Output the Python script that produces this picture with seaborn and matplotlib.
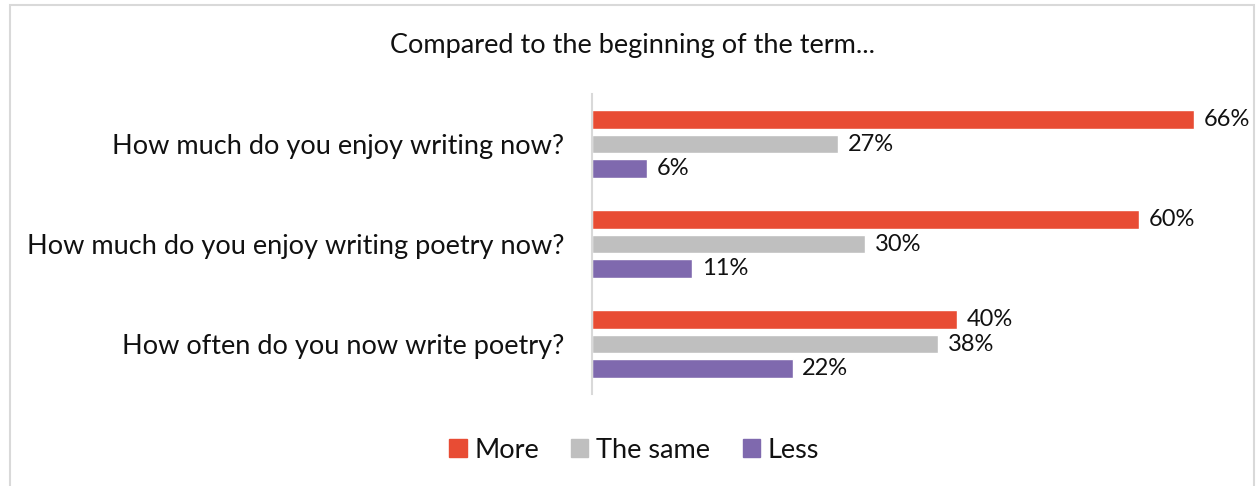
import matplotlib
matplotlib.use("Agg")
import matplotlib.pyplot as plt
from matplotlib.patches import Rectangle
import seaborn as sns
import pandas as pd

# Survey questions and response shares (%)
questions = [
    "How much do you enjoy writing now?",
    "How much do you enjoy writing poetry now?",
    "How often do you now write poetry?",
]
responses = ["More", "The same", "Less"]
more = [66, 60, 40]
same = [27, 30, 38]
less = [6, 11, 22]
colors = ["#E84C34", "#BFBFBF", "#7F69AE"]

rows = []
for q, m, s, l in zip(questions, more, same, less):
    rows.append({"question": q, "response": "More", "pct": m})
    rows.append({"question": q, "response": "The same", "pct": s})
    rows.append({"question": q, "response": "Less", "pct": l})
df = pd.DataFrame(rows)

sns.set_theme(style="white")
plt.rcParams["font.family"] = ["Lato", "DejaVu Sans"]

W, H = 1256, 486
fig = plt.figure(figsize=(W / 100, H / 100), dpi=100)

# plot area in pixel terms: x from 592 to 1230, y from 94 to 394
left, right, top, bottom = 592, 1230, 94, 394
ax = fig.add_axes([left / W, 1 - bottom / H, (right - left) / W, (bottom - top) / H])

sns.barplot(
    data=df, y="question", x="pct", hue="response", orient="h",
    hue_order=responses, palette=colors, width=0.735, gap=0.265,
    ax=ax, legend=False, saturation=1,
)
ax.set_xlim(0, 70)
ax.set_ylim(2.5, -0.5)

for cont in ax.containers:
    ax.bar_label(cont, labels=[f"{v:.0f}%" for v in cont.datavalues],
                 padding=7, fontsize=17, color="#111111")

ax.set_xlabel("")
ax.set_ylabel("")
ax.set_xticks([])
ax.tick_params(axis="y", length=0, pad=20, labelsize=19.5, labelcolor="#111111")
for sp in ["top", "right", "bottom"]:
    ax.spines[sp].set_visible(False)
ax.spines["left"].set_color("#D9D9D9")
ax.spines["left"].set_linewidth(1.5)

fig.text(633 / W, 1 - 45 / H, "Compared to the beginning of the term...",
         ha="center", va="center", fontsize=19.5, color="#111111")

# legend
handles = [Rectangle((0, 0), 1, 1, color=c) for c in colors]
fig.legend(handles, responses, loc="center", bbox_to_anchor=(634 / W, 1 - 450 / H),
           ncol=3, frameon=False, fontsize=19.5, handlelength=0.63, handleheight=0.63,
           handletextpad=0.28, columnspacing=1.2, labelcolor="#111111")

# chart border
fig.add_artist(Rectangle((10 / W, -0.05), (1254 - 10) / W, 1 - 5 / H + 0.05,
                         transform=fig.transFigure, fill=False,
                         edgecolor="#D9D9D9", linewidth=1.5))

fig.savefig("out.png", dpi=100)
